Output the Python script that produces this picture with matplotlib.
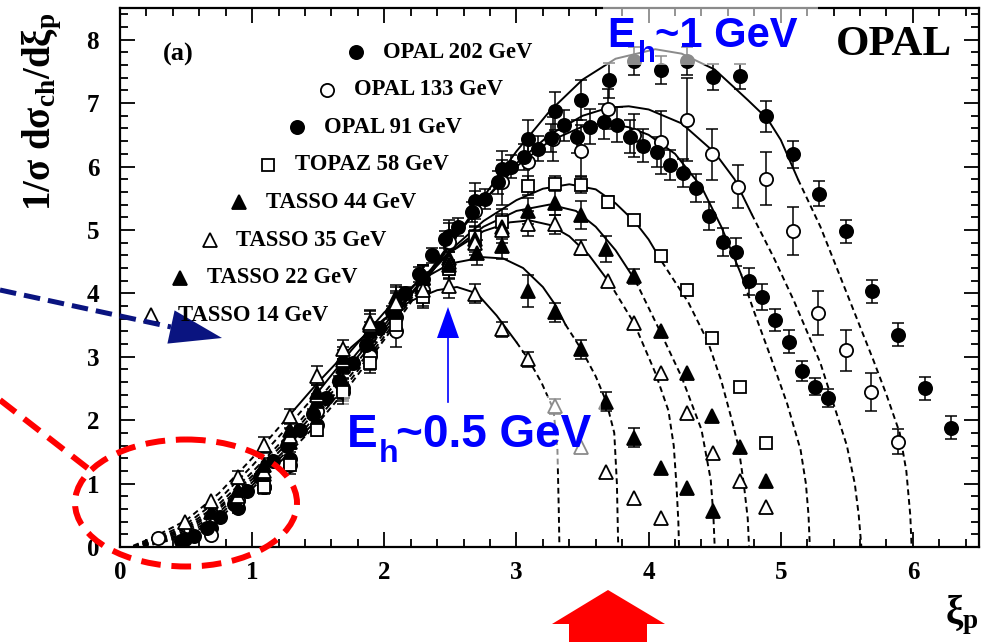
import numpy as np
import matplotlib
matplotlib.use("Agg")
import matplotlib.pyplot as plt
from matplotlib.ticker import MultipleLocator
from matplotlib.patches import Polygon, Ellipse, Rectangle

SERIF = 'Liberation Serif'
SANS = 'Liberation Sans'
plt.rcParams['font.family'] = SERIF
plt.rcParams['font.weight'] = 'bold'
plt.rcParams['mathtext.fontset'] = 'custom'
plt.rcParams['mathtext.rm'] = 'Liberation Serif:bold'
plt.rcParams['mathtext.it'] = 'Liberation Serif:bold'
plt.rcParams['mathtext.bf'] = 'Liberation Serif:bold'
plt.rcParams['mathtext.sf'] = 'Liberation Sans:bold'

# ---------------- measured spectra (xi_p, 1/sigma dsigma/dxi, error) ----------------
opal202_xi = [0.49, 0.69, 0.89, 1.09, 1.29, 1.49, 1.69, 1.89, 2.09, 2.29, 2.49, 2.69, 2.89, 3.09, 3.29,
              3.49, 3.70, 3.89, 4.09, 4.29, 4.49, 4.69, 4.89, 5.09, 5.29, 5.49, 5.69, 5.89, 6.09, 6.29]
opal202_y = [0.12, 0.30, 0.62, 0.95, 1.38, 1.92, 2.50, 3.08, 3.62, 4.22, 4.91, 5.46, 5.96, 6.44, 6.87,
             7.05, 7.36, 7.66, 7.52, 7.66, 7.41, 7.42, 6.79, 6.19, 5.57, 4.98, 4.03, 3.35, 2.50, 1.88]
opal202_err = [0.05, 0.07, 0.08, 0.10, 0.12, 0.14, 0.16, 0.18, 0.20, 0.22, 0.25, 0.28, 0.28, 0.30, 0.30,
               0.32, 0.28, 0.22, 0.22, 0.22, 0.20, 0.20, 0.24, 0.22, 0.20, 0.18, 0.18, 0.18, 0.18, 0.18]

opal133_xi = [0.29, 0.69, 0.89, 1.09, 1.29, 1.49, 1.69, 1.89, 2.09, 2.29, 2.49, 2.69, 2.89, 3.09,
              3.28, 3.49, 3.69, 3.89, 4.09, 4.29, 4.48, 4.68, 4.89, 5.09, 5.28, 5.49, 5.68, 5.89]
opal133_y = [0.14, 0.19, 0.74, 0.95, 1.30, 2.14, 2.45, 3.01, 3.40, 4.05, 4.81, 5.30, 5.75, 6.07,
             6.43, 6.25, 6.91, 6.49, 6.38, 6.74, 6.19, 5.68, 5.81, 4.98, 3.69, 3.10, 2.44, 1.66]
opal133_err = [0.05, 0.05, 0.10, 0.12, 0.15, 0.18, 0.20, 0.22, 0.25, 0.28, 0.30, 0.32, 0.35, 0.35,
               0.35, 0.40, 0.32, 0.34, 0.50, 0.66, 0.40, 0.34, 0.42, 0.38, 0.34, 0.32, 0.30, 0.20]

opal91_xi = [0.46, 0.56, 0.66, 0.76, 0.86, 0.96, 1.06, 1.16, 1.26, 1.36, 1.46, 1.56, 1.66, 1.76, 1.86,
             1.96, 2.06, 2.16, 2.26, 2.36, 2.46, 2.56, 2.66, 2.76, 2.86, 2.96, 3.06, 3.16, 3.26, 3.36,
             3.46, 3.56, 3.66, 3.76, 3.86, 3.96, 4.06, 4.16, 4.26, 4.36, 4.46, 4.56, 4.66, 4.76, 4.86,
             4.96, 5.06, 5.16, 5.26, 5.36]
opal91_y = [0.10, 0.18, 0.30, 0.48, 0.68, 0.88, 1.10, 1.35, 1.60, 1.85, 2.10, 2.35, 2.62, 2.90, 3.18,
            3.45, 3.70, 4.00, 4.30, 4.60, 4.85, 5.05, 5.28, 5.49, 5.75, 6.00, 6.15, 6.28, 6.45, 6.65,
            6.47, 6.63, 6.71, 6.66, 6.47, 6.33, 6.23, 6.02, 5.90, 5.66, 5.22, 4.81, 4.65, 4.19, 3.94,
            3.58, 3.24, 2.77, 2.53, 2.35]
opal91_err = [0.02, 0.02, 0.03, 0.03, 0.04, 0.04, 0.05, 0.05, 0.06, 0.06, 0.07, 0.07, 0.08, 0.08, 0.09,
              0.09, 0.10, 0.10, 0.12, 0.12, 0.14, 0.14, 0.16, 0.16, 0.18, 0.18, 0.20, 0.20, 0.22, 0.24,
              0.26, 0.28, 0.28, 0.28, 0.26, 0.26, 0.24, 0.24, 0.22, 0.22, 0.22, 0.22, 0.22, 0.21, 0.21,
              0.18, 0.18, 0.16, 0.13, 0.14]

topaz58_xi = [1.09, 1.29, 1.49, 1.69, 1.89, 2.09, 2.29, 2.49, 2.69, 2.89, 3.09, 3.29, 3.49, 3.69,
              3.89, 4.09, 4.29, 4.48, 4.69, 4.89]
topaz58_y = [0.95, 1.30, 1.85, 2.45, 2.90, 3.50, 3.95, 4.38, 4.89, 5.13, 5.70, 5.73, 5.71, 5.44,
             5.16, 4.59, 4.05, 3.29, 2.52, 1.64]
topaz58_err = [0.00, 0.00, 0.10, 0.15, 0.15, 0.15, 0.15, 0.15, 0.18, 0.20, 0.15, 0.12, 0.12, 0.10,
               0.00, 0.00, 0.00, 0.00, 0.00, 0.00]

tasso44_xi = [1.09, 1.29, 1.49, 1.69, 1.89, 2.09, 2.29, 2.49, 2.69, 2.89, 3.09, 3.29, 3.49, 3.68,
              3.89, 4.09, 4.29, 4.48, 4.69, 4.89]
tasso44_y = [1.15, 1.65, 2.30, 2.85, 3.40, 3.85, 4.25, 4.55, 4.85, 5.05, 5.30, 5.43, 5.23, 4.70,
             4.27, 3.41, 2.75, 2.07, 1.57, 1.04]
tasso44_err = [0.00, 0.10, 0.12, 0.12, 0.15, 0.15, 0.18, 0.18, 0.20, 0.20, 0.20, 0.20, 0.22, 0.20,
               0.12, 0.00, 0.00, 0.00, 0.00, 0.00]

tasso35_xi = [0.89, 1.09, 1.29, 1.49, 1.69, 1.89, 2.09, 2.29, 2.49, 2.69, 2.89, 3.09, 3.29, 3.49,
              3.69, 3.89, 4.09, 4.29, 4.49, 4.69, 4.89]
tasso35_y = [0.80, 1.20, 1.75, 2.40, 2.95, 3.50, 3.90, 4.25, 4.50, 4.80, 5.00, 5.10, 5.09, 4.72,
             4.20, 3.54, 2.74, 2.12, 1.49, 1.04, 0.63]
tasso35_err = [0.00, 0.10, 0.12, 0.15, 0.15, 0.18, 0.20, 0.20, 0.20, 0.20, 0.20, 0.20, 0.15, 0.12,
               0.00, 0.00, 0.00, 0.00, 0.00, 0.00, 0.00]

tasso22_xi = [0.69, 0.89, 1.09, 1.29, 1.49, 1.69, 1.89, 2.09, 2.29, 2.49, 2.70, 2.89, 3.09, 3.29,
              3.49, 3.68, 3.89, 4.09, 4.29, 4.49]
tasso22_y = [0.55, 0.90, 1.30, 1.85, 2.45, 3.00, 3.55, 3.95, 4.25, 4.45, 4.64, 4.74, 4.04, 3.70,
             3.12, 2.29, 1.72, 1.25, 0.93, 0.56]
tasso22_err = [0.00, 0.00, 0.10, 0.12, 0.15, 0.15, 0.18, 0.18, 0.20, 0.20, 0.20, 0.20, 0.25, 0.15,
               0.15, 0.15, 0.15, 0.00, 0.00, 0.00]

tasso14_xi = [0.49, 0.69, 0.89, 1.09, 1.29, 1.49, 1.69, 1.89, 2.09, 2.29, 2.49, 2.69, 2.89, 3.09,
              3.29, 3.49, 3.68, 3.89, 4.09]
tasso14_y = [0.40, 0.72, 1.10, 1.61, 2.06, 2.70, 3.12, 3.54, 3.85, 4.05, 4.11, 3.99, 3.43, 2.96,
             2.22, 1.58, 1.19, 0.78, 0.46]
tasso14_err = [0.00, 0.00, 0.10, 0.12, 0.12, 0.15, 0.15, 0.18, 0.18, 0.18, 0.18, 0.15, 0.12, 0.12,
               0.12, 0.00, 0.00, 0.00, 0.00]

# ---------------- fitted curves (solid inside fit range, dashed outside) ----------------
fit202_xi = [0.1, 0.25, 0.5, 0.75, 1.0, 1.25, 1.5, 1.75, 2.0, 2.25, 2.5, 2.75, 3.0, 3.25, 3.5, 3.75,
             4.05, 4.25, 4.5, 4.75, 4.9, 5.0, 5.13, 5.3, 5.5, 5.7, 5.8, 5.9, 5.95, 5.98, 5.99]
fit202_y = [0.01, 0.04, 0.17, 0.45, 0.92, 1.42, 1.96, 2.58, 3.27, 4.0, 4.76, 5.52, 6.24, 6.87, 7.37, 7.7,
            7.85, 7.78, 7.53, 7.05, 6.75, 6.42, 5.8, 5.05, 4.0, 2.95, 2.4, 1.8, 1.2, 0.5, 0.0]
fit133_xi = [0.1, 0.25, 0.5, 0.75, 1.0, 1.25, 1.5, 1.75, 2.0, 2.25, 2.5, 2.75, 3.0, 3.25, 3.5, 3.7,
             3.85, 4.0, 4.25, 4.5, 4.65, 4.78, 4.95, 5.1, 5.3, 5.5, 5.56, 5.59, 5.61]
fit133_y = [0.01, 0.05, 0.2, 0.5, 0.97, 1.48, 2.03, 2.65, 3.32, 4.05, 4.78, 5.45, 6.05, 6.5, 6.8, 6.93,
            6.95, 6.9, 6.68, 6.22, 5.8, 5.25, 4.55, 3.88, 2.9, 1.6, 1.0, 0.5, 0.0]
fit91_xi = [0.1, 0.25, 0.5, 0.75, 1.0, 1.25, 1.5, 1.75, 2.0, 2.25, 2.5, 2.75, 3.0, 3.25, 3.5, 3.67,
            3.85, 4.0, 4.2, 4.4, 4.55, 4.7, 4.8, 4.93, 5.05, 5.15, 5.19, 5.21, 5.22]
fit91_y = [0.01, 0.06, 0.23, 0.55, 1.02, 1.53, 2.1, 2.72, 3.38, 4.08, 4.8, 5.45, 6.0, 6.4, 6.63, 6.68,
           6.62, 6.5, 6.2, 5.68, 5.05, 4.3, 3.7, 2.96, 2.25, 1.53, 1.0, 0.5, 0.0]
fit58_xi = [0.1, 0.25, 0.5, 0.75, 1.0, 1.25, 1.5, 1.75, 2.0, 2.25, 2.5, 2.75, 3.0, 3.2, 3.4, 3.6,
            3.75, 3.9, 4.0, 4.1, 4.3, 4.45, 4.55, 4.63, 4.68, 4.72, 4.75, 4.76]
fit58_y = [0.01, 0.08, 0.26, 0.6, 1.07, 1.6, 2.18, 2.8, 3.44, 4.1, 4.68, 5.14, 5.47, 5.65, 5.72, 5.64,
           5.42, 5.12, 4.85, 4.5, 3.86, 3.23, 2.62, 2.0, 1.58, 1.0, 0.45, 0.0]
fit44_xi = [0.1, 0.25, 0.5, 0.75, 1.0, 1.25, 1.5, 1.75, 2.0, 2.25, 2.5, 2.75, 3.0, 3.25, 3.45, 3.6,
            3.75, 3.9, 4.08, 4.25, 4.4, 4.47, 4.49, 4.5]
fit44_y = [0.01, 0.09, 0.29, 0.63, 1.12, 1.66, 2.25, 2.88, 3.5, 4.12, 4.65, 5.05, 5.3, 5.4, 5.3, 5.05,
           4.68, 4.2, 3.43, 2.68, 1.85, 1.06, 0.5, 0.0]
fit35_xi = [0.1, 0.25, 0.5, 0.75, 1.0, 1.25, 1.5, 1.75, 2.0, 2.25, 2.5, 2.75, 2.95, 3.1, 3.25, 3.4,
            3.55, 3.7, 3.89, 4.05, 4.15, 4.19, 4.21, 4.225, 4.23]
fit35_y = [0.01, 0.1, 0.32, 0.68, 1.18, 1.72, 2.32, 2.95, 3.58, 4.18, 4.65, 4.98, 5.12, 5.15, 5.08, 4.9,
           4.6, 4.18, 3.53, 2.75, 2.15, 1.6, 1.0, 0.4, 0.0]
fit22_xi = [0.1, 0.25, 0.5, 0.75, 1.0, 1.25, 1.5, 1.75, 2.0, 2.25, 2.5, 2.75, 2.9, 3.05, 3.2, 3.3,
            3.37, 3.49, 3.6, 3.68, 3.74, 3.76, 3.77]
fit22_y = [0.01, 0.12, 0.36, 0.75, 1.28, 1.85, 2.45, 3.1, 3.7, 4.18, 4.47, 4.57, 4.55, 4.4, 4.1, 3.8,
           3.51, 3.12, 2.69, 2.29, 1.8, 1.0, 0.0]
fit14_xi = [0.1, 0.25, 0.5, 0.75, 1.0, 1.25, 1.5, 1.75, 2.0, 2.2, 2.4, 2.55, 2.7, 2.85, 3.0, 3.09,
            3.19, 3.28, 3.31, 3.32, 3.325]
fit14_y = [0.02, 0.15, 0.42, 0.85, 1.4, 2.0, 2.6, 3.15, 3.6, 3.88, 4.05, 4.1, 4.0, 3.65, 3.23, 2.96,
           2.59, 2.17, 1.53, 0.6, 0.0]

# fit ranges in xi_p
fit_ranges = {'202': (2.25, 5.13), '133': (2.25, 4.78), '91': (2.25, 4.7), '58': (2.0, 4.1),
              '44': (1.75, 3.9), '35': (1.75, 3.7), '22': (1.5, 3.37), '14': (1.25, 3.0)}

legend_labels = ['OPAL 202 GeV', 'OPAL 133 GeV', 'OPAL 91 GeV', 'TOPAZ 58 GeV',
                 'TASSO 44 GeV', 'TASSO 35 GeV', 'TASSO 22 GeV', 'TASSO 14 GeV']

series = [
    (opal202_xi, opal202_y, opal202_err, 'o', 'black', 9.5),
    (opal133_xi, opal133_y, opal133_err, 'o', 'white', 9.5),
    (opal91_xi, opal91_y, opal91_err, 'o', 'black', 9.5),
    (topaz58_xi, topaz58_y, topaz58_err, 's', 'white', 9.0),
    (tasso44_xi, tasso44_y, tasso44_err, '^', 'black', 9.5),
    (tasso35_xi, tasso35_y, tasso35_err, '^', 'white', 9.5),
    (tasso22_xi, tasso22_y, tasso22_err, '^', 'black', 9.5),
    (tasso14_xi, tasso14_y, tasso14_err, '^', 'white', 9.5),
]
fits = [('202', fit202_xi, fit202_y), ('133', fit133_xi, fit133_y), ('91', fit91_xi, fit91_y),
        ('58', fit58_xi, fit58_y), ('44', fit44_xi, fit44_y), ('35', fit35_xi, fit35_y),
        ('22', fit22_xi, fit22_y), ('14', fit14_xi, fit14_y)]

W, H = 990, 642
fig = plt.figure(figsize=(W / 100, H / 100), dpi=100)
ax = fig.add_axes([120 / W, (H - 547) / H, (979 - 120) / W, (547 - 8) / H])
ax.set_xlim(0, 6.5)
ax.set_ylim(0, 8.5)

# fitted curves
for key, fx, fy in fits:
    fx = np.asarray(fx)
    fy = np.asarray(fy)
    lo, hi = fit_ranges[key]
    low = fx <= lo
    mid = (fx >= lo) & (fx <= hi)
    high = fx >= hi
    for m in (low, high):
        ax.plot(fx[m], fy[m], color='black', lw=1.4, ls=(0, (3, 2)), zorder=2)
    ax.plot(fx[mid], fy[mid], color='black', lw=1.4, zorder=2)

# data points with error bars
for xi, y, err, mk, fc, ms in series:
    xi = np.asarray(xi)
    y = np.asarray(y)
    err = np.asarray(err)
    m = err > 0
    ax.errorbar(xi[m], y[m], yerr=err[m], fmt='none', ecolor='black', elinewidth=1.1,
                capsize=4.5, capthick=1.1, zorder=3)
    ax.plot(xi, y, ls='none', marker=mk, ms=ms, mfc=fc, mec='black', mew=1.3, zorder=4)

ax.xaxis.set_major_locator(MultipleLocator(1))
ax.yaxis.set_major_locator(MultipleLocator(1))
ax.xaxis.set_minor_locator(MultipleLocator(0.2))
ax.yaxis.set_minor_locator(MultipleLocator(0.2))
ax.tick_params(which='both', direction='in', top=True, right=True, width=1.3)
ax.tick_params(which='major', length=11, labelsize=18)
ax.tick_params(which='minor', length=6)
ax.tick_params(axis='x', pad=10)
ax.tick_params(axis='y', pad=15)
for lab in ax.get_xticklabels() + ax.get_yticklabels():
    lab.set_fontfamily(SERIF)
    lab.set_fontweight('bold')
for sp in ax.spines.values():
    sp.set_linewidth(1.6)

# overlay in pixel coordinates for labels and annotations
ov = fig.add_axes([0, 0, 1, 1], zorder=5)
ov.set_xlim(0, W)
ov.set_ylim(H, 0)
ov.axis('off')

ov.text(42, 112, '1/σ dσ$_\\mathrm{ch}$/dξ$_\\mathrm{p}$', rotation=90, ha='center', va='center',
        fontsize=28, fontfamily=SERIF, fontweight='bold')
ov.text(962, 615, 'ξ$_\\mathrm{p}$', ha='center', va='center', fontsize=28,
        fontfamily=SERIF, fontweight='bold')
ov.text(163, 54, '(a)', ha='left', va='center', fontsize=19, fontfamily=SERIF, fontweight='bold')
ov.text(836, 55, 'OPAL', ha='left', va='baseline', fontsize=31, fontfamily=SERIF, fontweight='bold')

# staggered legend
for i, ((xi, y, err, mk, fc, ms), lab) in enumerate(zip(series, legend_labels)):
    mx = 356 - 29.3 * i
    my = 52 + 37.6 * i
    ov.plot([mx], [my], marker=mk, ms=ms, mfc=fc, mec='black', mew=1.3, ls='none')
    ov.text(mx + 27, my, lab, ha='left', va='center', fontsize=16.3, fontfamily=SERIF,
            fontweight='bold')

# highlighted energy labels with translucent backing
BLUE = '#0000ff'
ov.add_patch(Rectangle((603, 0), 215, 65, facecolor='white', edgecolor='none', alpha=0.55))
ov.text(607, 47, 'E', ha='left', va='baseline', fontsize=30, fontfamily=SANS,
        fontweight='bold', color=BLUE)
ov.text(638, 62, 'h', ha='left', va='baseline', fontsize=21, fontfamily=SANS,
        fontweight='bold', color=BLUE)
ov.text(655, 47, '~1 GeV', ha='left', va='baseline', fontsize=30, fontfamily=SANS,
        fontweight='bold', color=BLUE)

ov.add_patch(Rectangle((344, 396), 257, 70, facecolor='white', edgecolor='none', alpha=0.55))
ov.text(347, 447, 'E', ha='left', va='baseline', fontsize=33, fontfamily=SANS,
        fontweight='bold', color=BLUE)
ov.text(379, 462, 'h', ha='left', va='baseline', fontsize=23, fontfamily=SANS,
        fontweight='bold', color=BLUE)
ov.text(396, 447, '~0.5 GeV', ha='left', va='baseline', fontsize=33, fontfamily=SANS,
        fontweight='bold', color=BLUE)

# thin blue arrow
ov.plot([448, 448], [402, 336], color=BLUE, lw=1.2)
ov.add_patch(Polygon([(437, 338), (459, 338), (448, 307)], closed=True, facecolor=BLUE,
                     edgecolor='none'))

# navy dashed arrow from the left edge
ov.plot([0, 171], [290, 327], color='#0a1480', lw=3.6, ls=(0, (3.3, 1.6)), solid_capstyle='butt',
        dash_capstyle='butt')
ov.add_patch(Polygon([(174.6, 310.4), (167.4, 343.6), (222, 338)], closed=True,
                     facecolor='#0a1480', edgecolor='none'))

# red dashed pointer and ellipse around the low-xi region
ov.plot([0, 90], [400, 470], color='#ff0000', lw=4.3, ls=(0, (3.3, 1.8)), dash_capstyle='butt')
ov.add_patch(Ellipse((186, 503), 222, 127, facecolor='none', edgecolor='#ff0000', lw=4.3,
                     ls=(0, (3.3, 1.8))))

# red block arrow at the bottom
ov.add_patch(Polygon([(569, 642), (569, 624), (552, 624), (608, 590), (665, 624), (647, 624),
                      (647, 642)], closed=True, facecolor='#ff0000', edgecolor='none'))

fig.savefig('out.png', dpi=100)
